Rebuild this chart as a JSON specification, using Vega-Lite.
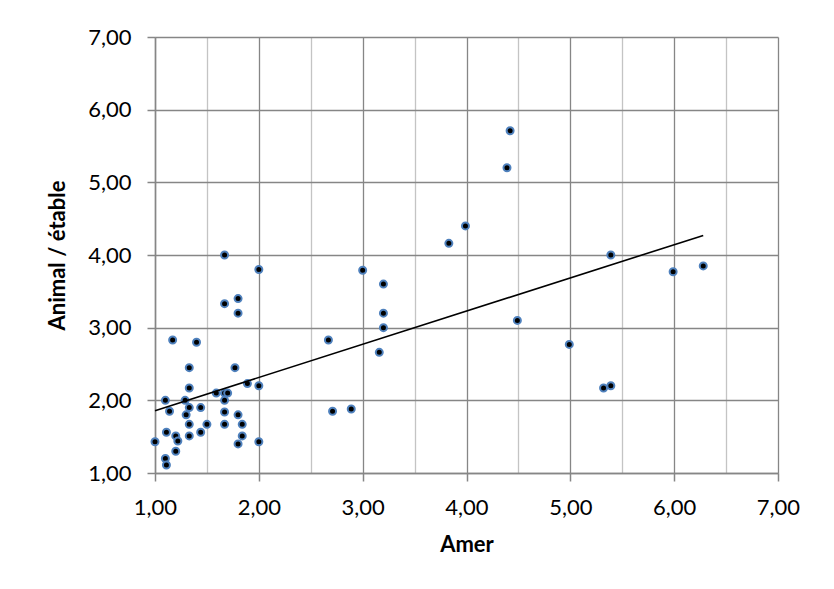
{
  "$schema": "https://vega.github.io/schema/vega-lite/v6.json",
  "autosize": {"type": "none"},
  "padding": {"left": 155, "top": 37, "right": 56, "bottom": 116},
  "width": 623,
  "height": 436,
  "background": "white",
  "config": {
    "view": {"stroke": null},
    "font": "Lato",
    "axis": {
      "labelFont": "Lato",
      "labelFontSize": 22,
      "labelColor": "#000000",
      "labelFlush": false,
      "labelOverlap": false,
      "titleFont": "Lato",
      "titleFontSize": 22,
      "titleFontWeight": "bold",
      "titleColor": "#000000",
      "domainColor": "#868686",
      "domainWidth": 1.5,
      "tickSize": 8,
      "tickWidth": 1.5,
      "gridWidth": 1.3
    }
  },
  "data": {
    "values": [
      {"amer": 1.00, "animal": 1.43}, {"amer": 1.10, "animal": 2.00}, {"amer": 1.10, "animal": 1.20},
      {"amer": 1.11, "animal": 1.11}, {"amer": 1.11, "animal": 1.56}, {"amer": 1.14, "animal": 1.85},
      {"amer": 1.17, "animal": 2.83}, {"amer": 1.20, "animal": 1.51}, {"amer": 1.22, "animal": 1.44},
      {"amer": 1.20, "animal": 1.30}, {"amer": 1.29, "animal": 2.00}, {"amer": 1.30, "animal": 1.80},
      {"amer": 1.33, "animal": 1.90}, {"amer": 1.33, "animal": 2.45}, {"amer": 1.33, "animal": 2.17},
      {"amer": 1.33, "animal": 1.67}, {"amer": 1.33, "animal": 1.51}, {"amer": 1.40, "animal": 2.80},
      {"amer": 1.44, "animal": 1.56}, {"amer": 1.44, "animal": 1.90}, {"amer": 1.50, "animal": 1.67},
      {"amer": 1.59, "animal": 2.10}, {"amer": 1.67, "animal": 4.00}, {"amer": 1.67, "animal": 3.33},
      {"amer": 1.67, "animal": 2.10}, {"amer": 1.67, "animal": 2.00}, {"amer": 1.67, "animal": 1.84},
      {"amer": 1.67, "animal": 1.67}, {"amer": 1.70, "animal": 2.10}, {"amer": 1.77, "animal": 2.45},
      {"amer": 1.80, "animal": 3.40}, {"amer": 1.80, "animal": 3.20}, {"amer": 1.80, "animal": 1.80},
      {"amer": 1.80, "animal": 1.40}, {"amer": 1.84, "animal": 1.67}, {"amer": 1.84, "animal": 1.51},
      {"amer": 1.89, "animal": 2.23}, {"amer": 2.00, "animal": 3.80}, {"amer": 2.00, "animal": 2.20},
      {"amer": 2.00, "animal": 1.43}, {"amer": 2.67, "animal": 2.83}, {"amer": 2.71, "animal": 1.85},
      {"amer": 2.89, "animal": 1.88}, {"amer": 3.00, "animal": 3.79}, {"amer": 3.20, "animal": 3.60},
      {"amer": 3.20, "animal": 3.20}, {"amer": 3.20, "animal": 3.00}, {"amer": 3.16, "animal": 2.66},
      {"amer": 3.83, "animal": 4.16}, {"amer": 3.99, "animal": 4.40}, {"amer": 4.39, "animal": 5.20},
      {"amer": 4.42, "animal": 5.71}, {"amer": 4.49, "animal": 3.10}, {"amer": 4.99, "animal": 2.77},
      {"amer": 5.32, "animal": 2.17}, {"amer": 5.39, "animal": 2.20}, {"amer": 5.39, "animal": 4.00},
      {"amer": 5.99, "animal": 3.77}, {"amer": 6.28, "animal": 3.85}
    ]
  },
  "layer": [
    {
      "mark": {"type": "point", "filled": true, "color": "#000000", "stroke": "#4F81BD", "strokeWidth": 2, "size": 49, "opacity": 1},
      "encoding": {
        "x": {
          "field": "amer", "type": "quantitative",
          "scale": {"domain": [1, 7], "nice": false, "zero": false},
          "axis": {
            "title": "Amer",
            "values": [1, 1.5, 2, 2.5, 3, 3.5, 4, 4.5, 5, 5.5, 6, 6.5, 7],
            "labelExpr": "datum.value % 1 === 0 ? replace(format(datum.value, '.2f'), '.', ',') : ''",
            "labelPadding": 16,
            "titlePadding": 16,
            "grid": true,
            "gridColor": {"condition": {"test": "datum.value % 1 === 0", "value": "#868686"}, "value": "#C4C4C4"},
            "tickColor": {"condition": {"test": "datum.value % 1 === 0", "value": "#868686"}, "value": "transparent"}
          }
        },
        "y": {
          "field": "animal", "type": "quantitative",
          "scale": {"domain": [1, 7], "nice": false, "zero": false},
          "axis": {
            "title": "Animal / étable",
            "values": [1, 1.5, 2, 2.5, 3, 3.5, 4, 4.5, 5, 5.5, 6, 6.5, 7],
            "labelExpr": "datum.value % 1 === 0 ? replace(format(datum.value, '.2f'), '.', ',') : ''",
            "labelPadding": 16,
            "titlePadding": 18,
            "grid": true,
            "gridColor": {"condition": {"test": "datum.value % 1 === 0", "value": "#868686"}, "value": "#C4C4C4"},
            "tickColor": {"condition": {"test": "datum.value % 1 === 0", "value": "#868686"}, "value": "transparent"}
          }
        }
      }
    },
    {
      "transform": [{"regression": "animal", "on": "amer"}],
      "mark": {"type": "line", "color": "#000000", "strokeWidth": 1.6},
      "encoding": {
        "x": {"field": "amer", "type": "quantitative"},
        "y": {"field": "animal", "type": "quantitative"}
      }
    }
  ]
}
